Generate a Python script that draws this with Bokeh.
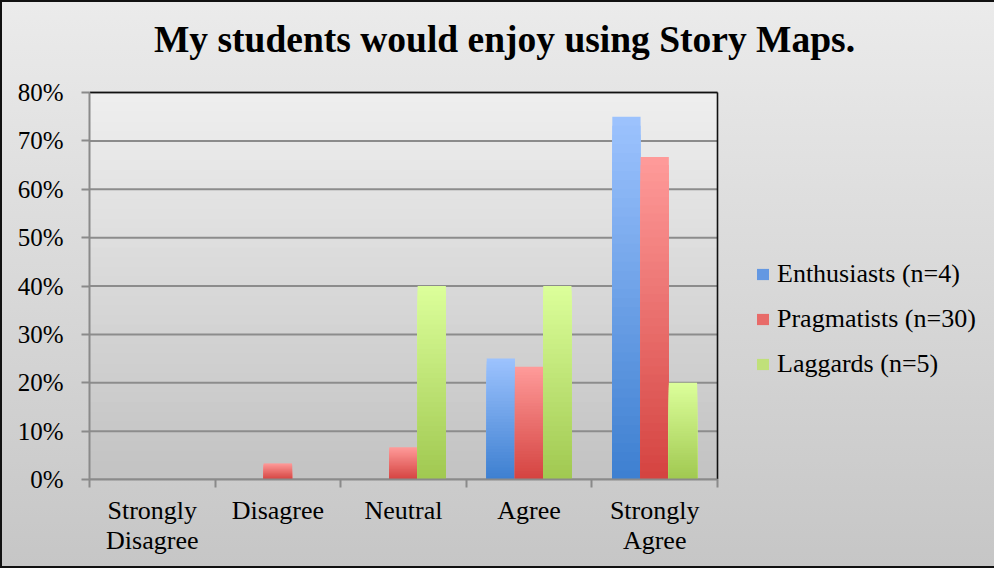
from bokeh.plotting import figure
from bokeh.models import FixedTicker, Legend, LegendItem, Range1d, Label, ColumnDataSource
from bokeh.embed import file_html
from bokeh.resources import INLINE

# ---------------- data ----------------
categories = ["Strongly\nDisagree", "Disagree", "Neutral", "Agree", "Strongly\nAgree"]
series_names = ["Enthusiasts (n=4)", "Pragmatists (n=30)", "Laggards (n=5)"]
enthusiasts = [0, 0, 0, 25, 75]
pragmatists = [0, 3.33, 6.67, 23.33, 66.67]
laggards = [0, 0, 40, 40, 20]
y_ticks = [0, 10, 20, 30, 40, 50, 60, 70, 80]
y_tick_labels = ["0%", "10%", "20%", "30%", "40%", "50%", "60%", "70%", "80%"]
title_text = "My students would enjoy using Story Maps."

# ---------------- style / layout ----------------
FONT = "Liberation Serif"
top_colors = ["#9dc3fe", "#ff9b9a", "#dcff9b"]
bottom_colors = ["#3d7fd0", "#d44340", "#a0c850"]
legend_colors = ["#6498e2", "#e86b69", "#c0e07a"]
bar_width = 0.225
offsets = [-bar_width, 0.0, bar_width]
N = 40

W, H = 994, 568
BL, BR, BT, BB = 87, 2, 2, 91          # borders around the (large) frame
PLOT_W, PLOT_H = 628, 387              # visible plot-area size in px
nx = len(categories)
ymax = y_ticks[-1]
x_end = nx * (W - BL - BR) / PLOT_W
y_end = ymax * (H - BT - BB) / PLOT_H
px_x = PLOT_W / nx                     # px per category
px_y = PLOT_H / ymax                   # px per percent


def hex2rgb(h):
    h = h.lstrip("#")
    return tuple(int(h[i:i + 2], 16) for i in (0, 2, 4))


def mix(c1, c2, t):
    a, b = hex2rgb(c1), hex2rgb(c2)
    return "#%02x%02x%02x" % tuple(round(a[i] + (b[i] - a[i]) * t) for i in range(3))


p = figure(width=W, height=H, output_backend="svg", toolbar_location=None,
           x_range=Range1d(0, x_end), y_range=Range1d(0, y_end),
           min_border_left=BL, min_border_right=BR,
           min_border_top=BT, min_border_bottom=BB)
p.styles = {
    "background": "linear-gradient(to bottom, #ebebeb 0%, #c6c6c6 100%)",
    "border-left": "2px solid #111",
    "border-top": "2px solid #111",
    "border-bottom": "2px solid #111",
}
p.border_fill_alpha = 0
p.background_fill_alpha = 0
p.outline_line_color = None
p.xgrid.grid_line_color = None
p.ygrid.grid_line_color = None

# plot-area gradient background (drawn tallest first)
bg = dict(left=[], right=[], bottom=[], top=[], color=[])
for k in range(N - 1, -1, -1):
    bg["left"].append(0)
    bg["right"].append(nx)
    bg["bottom"].append(0)
    bg["top"].append(ymax * (k + 1) / N)
    bg["color"].append(mix("#c2c2c2", "#efefef", (k + 0.5) / N))
p.quad(left="left", right="right", bottom="bottom", top="top", color="color",
       source=ColumnDataSource(bg), line_color=None, level="image")

# horizontal grid lines over the plot area only
p.segment(x0=[0] * len(y_ticks), x1=[nx] * len(y_ticks), y0=y_ticks, y1=y_ticks,
          line_color="#8c8c8c", line_width=2, level="underlay")

# gradient bars
series_values = [enthusiasts, pragmatists, laggards]
for s, vals in enumerate(series_values):
    d = dict(x=[], top=[], color=[])
    for k in range(N - 1, -1, -1):
        for i, v in enumerate(vals):
            if v <= 0:
                continue
            d["x"].append(i + 0.5 + offsets[s])
            d["top"].append(v * (k + 1) / N)
            d["color"].append(mix(bottom_colors[s], top_colors[s], (k + 0.5) / N))
    p.vbar(x="x", top="top", bottom=0, width=bar_width, color="color",
           source=ColumnDataSource(d), line_color=None)

# plot-area border (top and right)
p.segment(x0=[0, nx], x1=[nx, nx], y0=[ymax, 0], y1=[ymax, ymax],
          line_color="#111111", line_width=1.6)

# legend renderers (one zero-height bar each)
legend_items = []
for s, name in enumerate(series_names):
    r = p.vbar(x=[0.5], top=[0], bottom=[0], width=bar_width, fill_color=legend_colors[s],
               line_color=None)
    legend_items.append(LegendItem(label=name, renderers=[r]))

legend = Legend(items=legend_items, location=(666, 100), padding=0, margin=0,
                border_line_color=None, background_fill_alpha=0,
                glyph_width=15, glyph_height=14, label_height=30, spacing=15,
                label_standoff=7, label_text_font=FONT, label_text_font_size="26px",
                label_text_color="#000000")
p.add_layout(legend, "center")

# title (inside the enlarged frame, above the plot area)
title_x = (512 - 97) / px_x
title_y = (487 - 47) / px_y
p.add_layout(Label(x=title_x, y=title_y, text=title_text, text_align="center",
                   text_baseline="alphabetic", text_font=FONT, text_font_size="37.5px",
                   text_font_style="bold", text_color="#000000"))

# axes
xa = p.xaxis[0]
xa.bounds = (0, nx)
xa.ticker = FixedTicker(ticks=[i + 0.5 for i in range(nx)], minor_ticks=list(range(nx + 1)))
xa.major_label_overrides = {i + 0.5: c for i, c in enumerate(categories)}
xa.major_tick_line_color = None
xa.minor_tick_line_color = "#8a8a8a"
xa.minor_tick_line_width = 2
xa.minor_tick_out = 8
xa.minor_tick_in = 0
xa.axis_line_color = "#8a8a8a"
xa.axis_line_width = 2
xa.major_label_text_font = FONT
xa.major_label_text_font_size = "26px"
xa.major_label_text_color = "#000000"
xa.major_label_text_line_height = 1.05
xa.major_label_standoff = 8

ya = p.yaxis[0]
ya.bounds = (0, ymax)
ya.ticker = FixedTicker(ticks=y_ticks)
ya.major_label_overrides = {t: l for t, l in zip(y_ticks, y_tick_labels)}
ya.major_tick_line_color = "#8a8a8a"
ya.major_tick_line_width = 2
ya.major_tick_out = 8
ya.major_tick_in = 0
ya.minor_tick_line_color = None
ya.axis_line_color = "#8a8a8a"
ya.axis_line_width = 2
ya.major_label_text_font = FONT
ya.major_label_text_font_size = "25px"
ya.major_label_text_color = "#000000"
ya.major_label_standoff = 18

open("out.html", "w").write(file_html(p, INLINE))
